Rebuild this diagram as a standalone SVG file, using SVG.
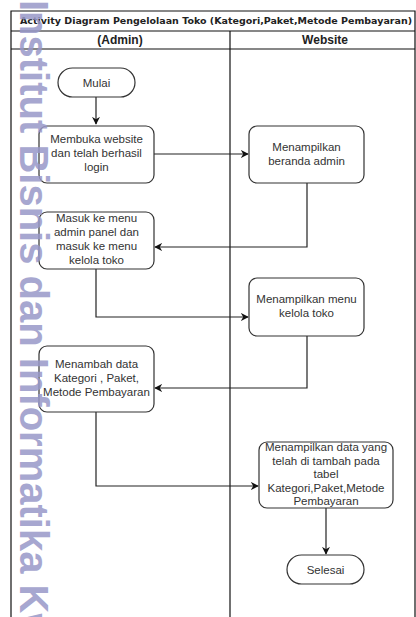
<svg xmlns="http://www.w3.org/2000/svg" width="416" height="617" viewBox="0 0 416 617">
<style>
.frame{fill:none;stroke:#111;stroke-width:1.2}
.act{fill:#fff;stroke:#333;stroke-width:1.2}
.t{font-family:"Liberation Sans",Arial,sans-serif;font-size:11.5px;fill:#333;text-anchor:middle}
.h{font-family:"Liberation Sans",Arial,sans-serif;font-size:12px;font-weight:bold;fill:#222;text-anchor:middle}
.title{font-family:"DejaVu Sans",Verdana,sans-serif;font-size:9px;font-weight:bold;fill:#222}
.edge{fill:none;stroke:#222;stroke-width:1.2}
.wm{font-family:"Liberation Sans",Arial,sans-serif;font-size:40px;font-weight:bold;fill:#9898c8;opacity:0.85}
</style>
<defs>
<marker id="arr" viewBox="0 0 10 10" refX="9" refY="5" markerWidth="8" markerHeight="8" markerUnits="userSpaceOnUse" orient="auto">
<path d="M0,0 L10,5 L0,10 L3,5 Z" fill="#111"/>
</marker>
</defs>
<rect width="416" height="617" fill="#fff"/>
<g id="lanes">
<path class="frame" d="M11,640 V11 H415 V640"/>
<line class="frame" x1="11" y1="31" x2="415" y2="31"/>
<line class="frame" x1="11" y1="49" x2="415" y2="49"/>
<line class="frame" x1="230" y1="31" x2="230" y2="640"/>
<text class="title" x="20" y="24" textLength="392" lengthAdjust="spacingAndGlyphs">Activity Diagram Pengelolaan Toko (Kategori,Paket,Metode Pembayaran)</text>
<text class="h" x="120" y="44">(Admin)</text>
<text class="h" x="325" y="44">Website</text>
</g>
<g id="connectors">
<path class="edge" d="M96,97 V124" marker-end="url(#arr)"/>
<path class="edge" d="M154,154 H248" marker-end="url(#arr)"/>
<path class="edge" d="M307,183 V247 H155" marker-end="url(#arr)"/>
<path class="edge" d="M96,269 V317 H248" marker-end="url(#arr)"/>
<path class="edge" d="M307,336 V388 H155" marker-end="url(#arr)"/>
<path class="edge" d="M96,412 V486 H258" marker-end="url(#arr)"/>
<path class="edge" d="M326,508 V554" marker-end="url(#arr)"/>
</g>
<g id="mulai">
<rect class="act" x="58" y="68" width="77" height="29" rx="14.5"/>
<text class="t" x="96.5" y="87">Mulai</text>
</g>
<g id="membuka">
<rect class="act" x="39" y="126" width="115" height="57" rx="8"/>
<text class="t" x="96.5" y="143">Membuka website</text>
<text class="t" x="96.5" y="157">dan telah berhasil</text>
<text class="t" x="96.5" y="171">login</text>
</g>
<g id="beranda">
<rect class="act" x="249" y="126" width="115" height="57" rx="8"/>
<text class="t" x="306.5" y="151">Menampilkan</text>
<text class="t" x="306.5" y="165">beranda admin</text>
</g>
<g id="masuk">
<rect class="act" x="39" y="212" width="115" height="57" rx="8"/>
<text class="t" x="96.5" y="222">Masuk ke menu</text>
<text class="t" x="96.5" y="236">admin panel dan</text>
<text class="t" x="96.5" y="250">masuk ke menu</text>
<text class="t" x="96.5" y="264">kelola toko</text>
</g>
<g id="menu">
<rect class="act" x="249" y="278" width="115" height="58" rx="8"/>
<text class="t" x="306.5" y="303">Menampilkan menu</text>
<text class="t" x="306.5" y="317">kelola toko</text>
</g>
<g id="menambah">
<rect class="act" x="39" y="346" width="115" height="66" rx="8"/>
<text class="t" x="96.5" y="368">Menambah data</text>
<text class="t" x="96.5" y="382">Kategori , Paket,</text>
<text class="t" x="96.5" y="396">Metode Pembayaran</text>
</g>
<g id="data">
<rect class="act" x="259" y="442" width="134" height="66" rx="8"/>
<text class="t" x="326" y="451">Menampilkan data yang</text>
<text class="t" x="326" y="465">telah di tambah pada</text>
<text class="t" x="326" y="478">tabel</text>
<text class="t" x="326" y="492">Kategori,Paket,Metode</text>
<text class="t" x="326" y="505">Pembayaran</text>
</g>
<g id="selesai">
<rect class="act" x="287" y="555" width="77" height="29" rx="14.5"/>
<text class="t" x="325.5" y="574">Selesai</text>
</g>
<g id="watermark">
<text class="wm" transform="translate(20,0) rotate(90)" x="0" y="0">Institut Bisnis dan Informatika Kw</text>
</g>
</svg>
